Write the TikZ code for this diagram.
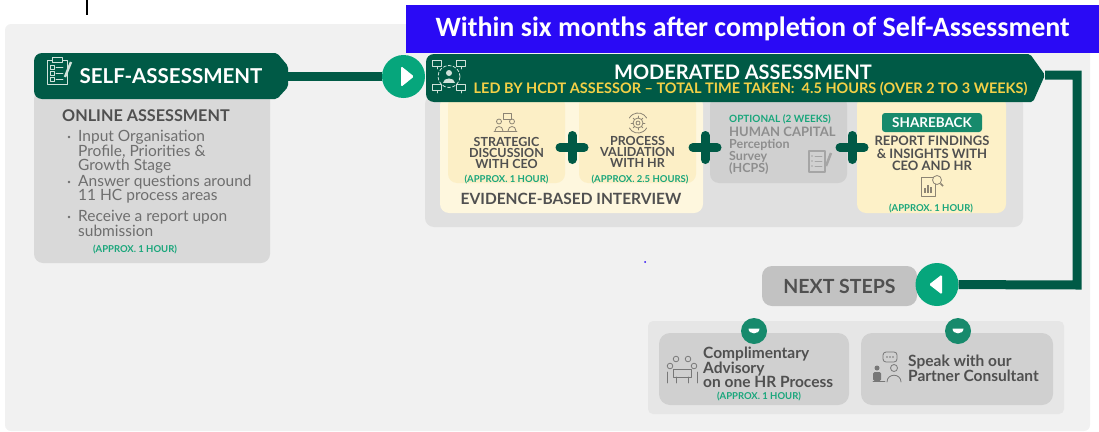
\documentclass[tikz,border=0pt]{standalone}
\usepackage{fontspec}
\setmainfont{Lato}
\newfontfamily\bannerfont{Carlito}
\usetikzlibrary{positioning}

\definecolor{panelgray}{HTML}{F1F1F1}
\definecolor{hcgreen}{HTML}{005A46}
\definecolor{playgreen}{HTML}{06A67C}
\definecolor{dotgreen}{HTML}{178A6C}
\definecolor{bodygray}{HTML}{D9D9D9}
\definecolor{modgray}{HTML}{E0E0E0}
\definecolor{optgray}{HTML}{D0D0D0}
\definecolor{cream}{HTML}{FEF7DE}
\definecolor{lightgold}{HTML}{FCEFC6}
\definecolor{sharegold}{HTML}{FDF1C8}
\definecolor{pillgray}{HTML}{C2C2C2}
\definecolor{nextgray}{HTML}{E6E6E6}
\definecolor{textgray}{HTML}{505050}
\definecolor{softgray}{HTML}{6E6E6E}
\definecolor{optgraytext}{HTML}{8E8E8E}
\definecolor{approxgreen}{HTML}{19A67B}
\definecolor{ledyellow}{HTML}{F3D047}
\definecolor{bannerblue}{HTML}{2A0AF5}
\definecolor{iconbrown}{HTML}{8C8474}
\definecolor{iconlight}{HTML}{D0E2DA}
\definecolor{iconsoft}{HTML}{A5A5A5}
\definecolor{icongray}{HTML}{777777}

\newcommand{\fsz}[2]{\fontsize{#1}{#2}\selectfont}

\tikzset{
	box/.style = {inner sep = 0pt, rounded corners = 9pt},
	title/.style = {font = \bfseries\fsz{12.5}{11.3}, text = textgray, align = center, inner sep = 0pt},
	approx/.style = {font = \bfseries\fsz{9.5}{9.5}, text = approxgreen, inner sep = 0pt},
	plussign/.style = {hcgreen, line width = 9pt, line cap = round},
	link/.style = {hcgreen, line width = 9pt},
	roundbtn/.style = {circle, fill = playgreen, minimum size = 43pt, inner sep = 0pt},
	dotbtn/.style = {circle, fill = dotgreen, minimum size = 26pt, inner sep = 0pt},
	icon/.style = {line width = 0.8pt, line cap = round, line join = round},
}

\begin{document}
\begin{tikzpicture}[x = 1pt, y = -1pt]
	\useasboundingbox (0,0) rectangle (1099,431);
	\fill[panelgray, rounded corners = 6pt] (5,24) rectangle (1090,431);
	\draw[black, line width = 1.2pt] (87,0) -- (87,15);
	\node[fill = bannerblue, minimum width = 693pt, minimum height = 48pt, inner sep = 0pt, anchor = north west, text = white, font = \bannerfont\bfseries\fsz{28}{28}] (banner) at (406,5) {Within six months after completion of Self-Assessment};

	\node[box, fill = bodygray, minimum width = 236pt, minimum height = 173pt] (onlinebox) at (152,176.5) {};
	\fill[hcgreen, rounded corners = 8pt] (150,99) -- (34,99) -- (34,53) -- (150,53) [rounded corners = 2pt] -- (277,53) -- (288,66) -- (288,87) -- (277,99) -- cycle;
	\coordinate (selftip) at (288,76.5);
	\node[text = white, font = \bfseries\fsz{20.5}{20.5}, inner sep = 0pt] (selfhead) at (171,76.5) {SELF-ASSESSMENT};
	\draw[icon, iconlight] (47,60) rectangle (67,84);
	\draw[icon, iconlight, fill = hcgreen] (52,57.5) rectangle (62,62);
	\foreach \cy in {67,73,79} {
		\draw[icon, iconlight] (50,\cy-2) rectangle (54,\cy+2);
		\draw[icon, iconlight] (56,\cy) -- (63,\cy);
	}
	\draw[iconlight, line width = 2.5pt] (71,62) -- (65,77);
	\node[anchor = west, text = textgray, font = \bfseries\fsz{16.2}{16.2}, inner sep = 0pt] (online) at (62,116) {ONLINE ASSESSMENT};
	\node[anchor = north west, text = softgray, font = \fsz{15.5}{14}, align = left, inner sep = 0pt] (bulletone) at (78,130) {Input Organisation\\Profile, Priorities \&\\Growth Stage};
	\node[anchor = north west, text = softgray, font = \fsz{15.5}{14}, align = left, inner sep = 0pt] (bullettwo) at (78,175) {Answer questions around\\11 HC process areas};
	\node[anchor = north west, text = softgray, font = \fsz{15.5}{14}, align = left, inner sep = 0pt] (bulletthree) at (78,210) {Receive a report upon\\submission};
	\foreach \by in {137,182,217}
		\fill[softgray] (69,\by) circle[radius = 1.4pt];
	\node[approx] (selfapprox) at (135,250) {(APPROX. 1 HOUR)};

	\node[box, fill = modgray, minimum width = 598pt, minimum height = 132pt] (modbox) at (724,161) {};
	\node[box, fill = cream, minimum width = 263pt, minimum height = 117pt] (evidence) at (571.5,154.5) {};
	\node[box, fill = lightgold, minimum width = 117pt, minimum height = 87pt] (strategic) at (506.5,139.5) {};
	\node[box, fill = lightgold, minimum width = 117pt, minimum height = 87pt] (validation) at (637.5,139.5) {};
	\node[box, fill = optgray, minimum width = 137pt, minimum height = 87pt] (optional) at (778.5,139.5) {};
	\node[box, fill = sharegold, minimum width = 149pt, minimum height = 117pt] (shareback) at (931.5,154.5) {};
	\foreach \px in {572,705,852}
		\draw[plussign] (\px-12,147.5) -- (\px+12,147.5) (\px,135.5) -- (\px,159.5);

	\draw[icon, iconbrown] (503,113) rectangle (511,119);
	\draw[icon, iconbrown] (499,121.5) circle[radius = 2.5pt];
	\draw[icon, iconbrown] (512,121.5) circle[radius = 2.5pt];
	\draw[icon, iconbrown] (495,131) .. controls (495,125) and (503,125) .. (503,131);
	\draw[icon, iconbrown] (508,131) .. controls (508,125) and (516,125) .. (516,131);
	\draw[icon, iconbrown] (494,131) -- (517,131);
	\node[title] (strategictext) at (506.5,153) {STRATEGIC\\DISCUSSION\\WITH CEO};
	\node[approx] (strategicapprox) at (506.5,180) {(APPROX. 1 HOUR)};

	\draw[icon, iconbrown] (638,123) circle[radius = 2pt];
	\draw[icon, iconbrown] (638,123) circle[radius = 5pt];
	\foreach \ga in {0,45,...,315}
		\draw[icon, iconbrown] ([shift = {(\ga:5pt)}] 638,123) -- ([shift = {(\ga:7pt)}] 638,123);
	\draw[icon, iconbrown] ([shift = {(30:10pt)}] 638,123) arc[start angle = 30, end angle = 150, radius = 10pt];
	\draw[icon, iconbrown] ([shift = {(210:10pt)}] 638,123) arc[start angle = 210, end angle = 330, radius = 10pt];
	\node[title] (validationtext) at (637.5,152) {PROCESS\\VALIDATION\\WITH HR};
	\node[approx] (validationapprox) at (640,180) {(APPROX. 2.5 HOURS)};
	\node[font = \bfseries\fsz{15.5}{15.5}, text = textgray, inner sep = 0pt] (evidencetext) at (571,199) {EVIDENCE-BASED INTERVIEW};

	\node[approx, anchor = west, font = \bfseries\fsz{10}{10}] (optionaltag) at (729,119) {OPTIONAL (2 WEEKS)};
	\node[anchor = west, font = \bfseries\fsz{13}{13}, text = optgraytext, inner sep = 0pt] (hcps) at (729,132) {HUMAN CAPITAL};
	\node[anchor = north west, align = left, font = \bfseries\fsz{12.5}{12}, text = optgraytext, inner sep = 0pt] (hcpstext) at (729,139) {Perception\\Survey\\(HCPS)};
	\draw[icon, iconsoft, line width = 1.2pt] (809,151) rectangle (825,172);
	\foreach \sy in {156,161,166} {
		\fill[iconsoft] (812,\sy) circle[radius = 0.9pt];
		\draw[icon, iconsoft] (815,\sy) -- (822,\sy);
	}
	\draw[iconsoft, line width = 2.5pt] (831,153) -- (826,166);

	\node[box, fill = dotgreen, rounded corners = 3pt, minimum width = 100pt, minimum height = 19pt, text = white, font = \bfseries\fsz{13.5}{13.5}] (sharepill) at (932,122.5) {SHAREBACK};
	\node[title, font = \bfseries\fsz{13}{12.3}] (sharetext) at (932,153.5) {REPORT FINDINGS\\\& INSIGHTS WITH\\CEO AND HR};
	\draw[icon, iconbrown] (921,177) rectangle (935,196);
	\foreach \rx/\rh in {925/5,928/8,931/6}
		\draw[iconbrown, line width = 1.5pt] (\rx,193) -- (\rx,193-\rh);
	\draw[icon, iconbrown, fill = sharegold] (937,180) circle[radius = 4.5pt];
	\draw[iconbrown, line width = 1.5pt] (940.5,183.5) -- (943,186);
	\node[approx] (shareapprox) at (931,209) {(APPROX. 1 HOUR)};

	\fill[hcgreen, rounded corners = 8pt] (700,102) -- (426,102) -- (426,54) -- (700,54) [rounded corners = 2pt] -- (1030,54) -- (1045,75) -- (1033,102) -- cycle;
	\coordinate (modtip) at (1045,75);
	\node[text = white, font = \bfseries\fsz{20}{20}, inner sep = 0pt] (modhead) at (743,72) {MODERATED ASSESSMENT};
	\node[text = ledyellow, font = \bfseries\fsz{14.5}{14.5}, inner sep = 0pt] (ledby) at (750.5,89) {LED BY HCDT ASSESSOR – TOTAL TIME TAKEN:\ \ 4.5 HOURS (OVER 2 TO 3 WEEKS)};
	\draw[icon, iconlight, dash pattern = on 3pt off 2pt] (449,76.5) circle[radius = 11pt];
	\foreach \bx/\by in {437/64,461/64,437/88,461/88} {
		\draw[icon, iconlight, fill = hcgreen] (\bx-4.5,\by-3.5) rectangle (\bx+4.5,\by+2.5);
		\draw[icon, iconlight] (\bx,\by+2.5) -- (\bx,\by+5);
	}
	\fill[iconlight] (449,73) circle[radius = 3pt];
	\fill[iconlight] (443,83) .. controls (443,77) and (455,77) .. (455,83) -- cycle;

	\node[roundbtn] (playin) at (403.5,76.5) {};
	\draw[link] (selftip) -- (playin);
	\fill[white, rounded corners = 1.5pt] (401,66) -- (414,76.5) -- (401,87) -- cycle;

	\node[box, fill = pillgray, rounded corners = 10pt, minimum width = 155pt, minimum height = 40pt, text = textgray, font = \bfseries\fsz{19.5}{19.5}] (nextsteps) at (839.5,286) {NEXT STEPS};
	\node[roundbtn] (nextbtn) at (937,284.5) {};
	\coordinate (bend) at (1077,285);
	\draw[link] (modtip) -| (bend) -- (nextbtn);
	\fill[white, rounded corners = 1.5pt] (942,274.5) -- (929,284.5) -- (942,294.5) -- cycle;
	\fill[bannerblue] (645,262) circle[radius = 1pt];

	\node[box, fill = nextgray, rounded corners = 5pt, minimum width = 416pt, minimum height = 93pt] (options) at (856,367.5) {};
	\node[box, fill = optgray, rounded corners = 11pt, minimum width = 190pt, minimum height = 72pt] (advisory) at (754,369) {};
	\node[box, fill = optgray, rounded corners = 11pt, minimum width = 192pt, minimum height = 72pt] (consult) at (957,369) {};
	\node[dotbtn] (advisorydot) at (754,331) {};
	\node[dotbtn] (consultdot) at (958,331) {};
	\foreach \dx in {754,958}
		\fill[white] (\dx-5.5,328.5) -- (\dx+5.5,328.5) .. controls (\dx+5.5,335) and (\dx-5.5,335) .. (\dx-5.5,328.5);

	\node[anchor = north west, align = left, text = textgray, font = \bfseries\fsz{15.5}{14}, inner sep = 0pt] (advisorytext) at (703,347) {Complimentary\\Advisory\\on one HR Process};
	\node[approx] (advisoryapprox) at (759,397) {(APPROX. 1 HOUR)};
	\foreach \hx/\hy in {676/359,688/359,670/366,694/366}
		\draw[icon, icongray] (\hx,\hy) circle[radius = 2.8pt];
	\draw[icon, icongray] (673,369) rectangle (691,377);
	\draw[icon, icongray] (667,383) -- (667,372) (697,383) -- (697,372) (676,377) -- (676,383) (688,377) -- (688,383);

	\node[anchor = west, align = left, text = textgray, font = \bfseries\fsz{15.5}{14}, inner sep = 0pt] (consulttext) at (908,368) {Speak with our\\Partner Consultant};
	\draw[icon, icongray, rounded corners = 3pt] (883,352) rectangle (897,362);
	\foreach \qx in {887,890,893}
		\fill[icongray] (\qx,357) circle[radius = 0.8pt];
	\fill[icongray] (877,368) circle[radius = 2.5pt];
	\fill[icongray, rounded corners = 1.5pt] (873,372) rectangle (881,381);
	\draw[icon, icongray] (873,381) -- (885,381);
	\draw[icon, icongray] (894,368) circle[radius = 3.5pt];
	\draw[icon, icongray] (887,382) .. controls (887,373) and (901,373) .. (901,382);
\end{tikzpicture}
\end{document}
